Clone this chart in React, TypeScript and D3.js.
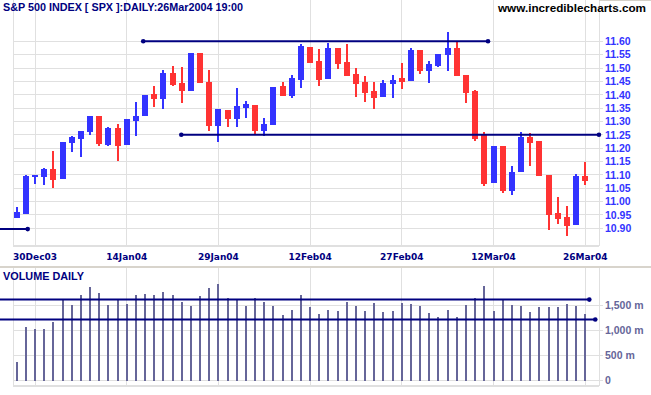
import React from "react";
import { scaleLinear } from "d3";

// trading days shown (26 Dec 2003 .. 26 Mar 2004)
const dates = [
  "2003-12-26", "2003-12-29", "2003-12-30", "2003-12-31",
  "2004-01-02", "2004-01-05", "2004-01-06", "2004-01-07", "2004-01-08", "2004-01-09",
  "2004-01-12", "2004-01-13", "2004-01-14", "2004-01-15", "2004-01-16", "2004-01-20",
  "2004-01-21", "2004-01-22", "2004-01-23", "2004-01-26", "2004-01-27", "2004-01-28",
  "2004-01-29", "2004-01-30",
  "2004-02-02", "2004-02-03", "2004-02-04", "2004-02-05", "2004-02-06", "2004-02-09",
  "2004-02-10", "2004-02-11", "2004-02-12", "2004-02-13", "2004-02-17", "2004-02-18",
  "2004-02-19", "2004-02-20", "2004-02-23", "2004-02-24", "2004-02-25", "2004-02-26",
  "2004-02-27",
  "2004-03-01", "2004-03-02", "2004-03-03", "2004-03-04", "2004-03-05", "2004-03-08",
  "2004-03-09", "2004-03-10", "2004-03-11", "2004-03-12", "2004-03-15", "2004-03-16",
  "2004-03-17", "2004-03-18", "2004-03-19", "2004-03-22", "2004-03-23", "2004-03-24",
  "2004-03-25", "2004-03-26",
];

const open = [
  10.94, 10.955, 11.092, 11.092, 11.121, 11.085, 11.22, 11.235, 11.261, 11.32,
  11.21, 11.275, 11.213, 11.303, 11.321, 11.401, 11.385, 11.48, 11.445, 11.414,
  11.556, 11.448, 11.283, 11.343, 11.31, 11.351, 11.361, 11.265, 11.288, 11.433,
  11.394, 11.455, 11.579, 11.526, 11.46, 11.575, 11.523, 11.478, 11.448, 11.414,
  11.393, 11.439, 11.461, 11.453, 11.568, 11.49, 11.509, 11.55, 11.575, 11.474,
  11.414, 11.249, 11.07, 11.208, 11.04, 11.109, 11.241, 11.226, 11.099, 10.956,
  10.941, 10.913, 11.096,
];
const high = [
  10.98, 11.1, 11.1, 11.125, 11.189, 11.223, 11.246, 11.265, 11.32, 11.32,
  11.279, 11.29, 11.31, 11.373, 11.399, 11.433, 11.493, 11.508, 11.504, 11.556,
  11.556, 11.493, 11.345, 11.343, 11.425, 11.376, 11.361, 11.313, 11.429, 11.448,
  11.474, 11.59, 11.579, 11.571, 11.594, 11.575, 11.59, 11.499, 11.47, 11.448,
  11.454, 11.474, 11.519, 11.574, 11.568, 11.526, 11.553, 11.635, 11.601, 11.474,
  11.418, 11.26, 11.208, 11.208, 11.135, 11.26, 11.256, 11.226, 11.099, 11.016,
  10.983, 11.103, 11.15,
];
const low = [
  10.94, 10.955, 11.065, 11.062, 11.051, 11.085, 11.186, 11.168, 11.249, 11.209,
  11.209, 11.153, 11.213, 11.246, 11.321, 11.355, 11.348, 11.434, 11.37, 11.414,
  11.445, 11.265, 11.224, 11.28, 11.28, 11.314, 11.249, 11.246, 11.288, 11.396,
  11.389, 11.426, 11.518, 11.434, 11.46, 11.496, 11.471, 11.393, 11.374, 11.348,
  11.393, 11.389, 11.423, 11.453, 11.476, 11.443, 11.505, 11.49, 11.471, 11.37,
  11.228, 11.059, 11.07, 11.031, 11.024, 11.109, 11.134, 11.096, 10.893, 10.916,
  10.871, 10.913, 11.063,
];
const close = [
  10.96, 11.095, 11.098, 11.121, 11.08, 11.223, 11.243, 11.264, 11.32, 11.215,
  11.276, 11.209, 11.309, 11.321, 11.399, 11.385, 11.48, 11.436, 11.415, 11.556,
  11.445, 11.283, 11.345, 11.31, 11.356, 11.365, 11.265, 11.289, 11.429, 11.396,
  11.461, 11.583, 11.519, 11.455, 11.575, 11.516, 11.471, 11.441, 11.408, 11.388,
  11.444, 11.454, 11.448, 11.566, 11.49, 11.514, 11.553, 11.574, 11.471, 11.405,
  11.236, 11.065, 11.208, 11.038, 11.109, 11.241, 11.221, 11.096, 10.95, 10.935,
  10.91, 11.096, 11.078,
];

// volume, millions
const volume = [
  367, 1067, 1027, 1027, 1167, 1593, 1507, 1707, 1867, 1733,
  1507, 1607, 1527, 1707, 1727, 1707, 1767, 1707, 1567, 1487,
  1687, 1840, 1927, 1647, 1607, 1487, 1647, 1567, 1487, 1307,
  1407, 1707, 1467, 1327, 1407, 1387, 1567, 1487, 1387, 1547,
  1367, 1387, 1547, 1527, 1487, 1347, 1267, 1407, 1267, 1507,
  1647, 1887, 1387, 1607, 1507, 1487, 1367, 1467, 1467, 1467,
  1527, 1487, 1327,
];

const dateTicks = ["2003-12-30", "2004-01-14", "2004-01-29", "2004-02-12", "2004-02-27", "2004-03-12", "2004-03-26"];
const dateTickLabels = ["30Dec03", "14Jan04", "29Jan04", "12Feb04", "27Feb04", "12Mar04", "26Mar04"];

const priceTicks = [10.9, 10.95, 11.0, 11.05, 11.1, 11.15, 11.2, 11.25, 11.3, 11.35, 11.4, 11.45, 11.5, 11.55, 11.6];
const volumeTicks = [0, 500, 1000, 1500];
const volumeTickLabels = ["0", "500 m", "1,000 m", "1,500 m"];

// hand drawn trend lines: [value, from bar, to bar]
const priceLines = [
  [11.6, 13.8, 51.4],
  [11.25, 17.95, 63.5],
  [10.897, -2.5, 1.2],
];
const volumeLines = [
  [1607, -2.5, 62.45],
  [1213, -2.5, 63.1],
];

const W = 651;
const H = 395;
const left = 13;
const right = 599;
const tickEnd = 603;
const navy = "#000080";
const grid = "#e0e0e0";

export default function App() {
  const xi = scaleLinear().domain([0, dates.length - 1]).range([16.7, 585.2]);
  const x = (d: string) => xi(dates.indexOf(d));
  const y = scaleLinear().domain([10.9, 11.6]).range([228.3, 41.3]);
  const yv = scaleLinear().domain([0, 1500]).range([380.5, 305]);

  return (
    <div style={{ position: "absolute", left: 0, top: 0 }}>
      <svg width={W} height={H} style={{ display: "block", background: "#fff" }}
        fontFamily="'Liberation Sans', Arial, sans-serif" fontWeight="bold">
        {/* price grid */}
        <g stroke={grid} strokeWidth={1} shapeRendering="crispEdges">
          {priceTicks.map((t) => (
            <line key={t} x1={left} x2={tickEnd} y1={y(t)} y2={y(t)} />
          ))}
          {dateTicks.map((d) => (
            <line key={d} x1={x(d)} x2={x(d)} y1={0} y2={246} />
          ))}
          <line x1={left} x2={left} y1={0} y2={246} />
          <line x1={right} x2={right} y1={0} y2={246} />
          <line x1={left} x2={right} y1={246} y2={246} strokeWidth={2} />
          <line x1={right} x2={W} y1={0.5} y2={0.5} stroke="#d4d0c8" />
        </g>

        {/* candles */}
        <g shapeRendering="crispEdges">
          {dates.map((d, i) => {
            const cx = xi(i);
            const up = close[i] >= open[i];
            const col = up ? "#3333ff" : "#ff3333";
            const top = y(Math.max(open[i], close[i]));
            const bot = y(Math.min(open[i], close[i]));
            return (
              <g key={d} fill={col}>
                <rect x={cx - 1} width={2} y={y(high[i])} height={y(low[i]) - y(high[i])} />
                <rect x={cx - 3} width={6} y={top} height={Math.max(1.5, bot - top)} />
              </g>
            );
          })}
        </g>

        {/* price trend lines */}
        <g stroke={navy} strokeWidth={2} fill={navy}>
          {priceLines.map(([v, a, b], k) => (
            <g key={k}>
              <line x1={xi(a)} x2={xi(b)} y1={y(v)} y2={y(v)} />
              <circle cx={xi(a)} cy={y(v)} r={2.3} stroke="none" />
              <circle cx={xi(b)} cy={y(v)} r={2.3} stroke="none" />
            </g>
          ))}
        </g>

        {/* price labels */}
        <g fill="#3333ff" fontSize={10.5}>
          {priceTicks.map((t) => (
            <text key={t} x={605} y={y(t)} dy="0.36em">{t.toFixed(2)}</text>
          ))}
        </g>

        {/* date labels */}
        <g fill={navy} fontSize={9} fontFamily="'DejaVu Sans', Verdana, sans-serif" textAnchor="middle">
          {dateTicks.map((d, k) => (
            <text key={d} x={x(d)} y={260}>{dateTickLabels[k]}</text>
          ))}
        </g>

        {/* header */}
        <text x={3} y={11} fill={navy} fontSize={11} textLength={240} lengthAdjust="spacingAndGlyphs">
          S&amp;P 500 INDEX [ SPX ]:DAILY:26Mar2004 19:00
        </text>
        <text x={498} y={11.5} fill="#000" fontSize={11.5} textLength={148} lengthAdjust="spacingAndGlyphs">
          www.incrediblecharts.com
        </text>

        {/* separator */}
        <line x1={0} x2={W} y1={267} y2={267} stroke="#d8d4cc" strokeWidth={2} />

        {/* volume panel */}
        <g stroke={grid} strokeWidth={1} shapeRendering="crispEdges">
          {volumeTicks.map((t) => (
            <line key={t} x1={left} x2={tickEnd} y1={yv(t)} y2={yv(t)} />
          ))}
          {dateTicks.map((d) => (
            <line key={d} x1={x(d)} x2={x(d)} y1={268} y2={386} />
          ))}
          <line x1={left} x2={left} y1={268} y2={386} />
          <line x1={right} x2={right} y1={268} y2={386} />
          <line x1={left} x2={right} y1={386} y2={386} strokeWidth={2} />
        </g>
        <text x={3} y={280} fill={navy} fontSize={10.5} textLength={81} lengthAdjust="spacingAndGlyphs">
          VOLUME DAILY
        </text>
        <g fill="#666699" shapeRendering="crispEdges">
          {volume.map((v, i) => (
            <rect key={i} x={xi(i) - 1} width={2} y={yv(v)} height={yv(0) - yv(v)} />
          ))}
        </g>
        <g stroke={navy} strokeWidth={2} fill={navy}>
          {volumeLines.map(([v, a, b], k) => (
            <g key={k}>
              <line x1={xi(a)} x2={xi(b)} y1={yv(v)} y2={yv(v)} />
              <circle cx={xi(b)} cy={yv(v)} r={2.3} stroke="none" />
            </g>
          ))}
        </g>
        <g fill="#666699" fontSize={10.5}>
          {volumeTicks.map((t, k) => (
            <text key={t} x={605} y={yv(t)} dy="0.36em">{volumeTickLabels[k]}</text>
          ))}
        </g>
      </svg>
    </div>
  );
}
